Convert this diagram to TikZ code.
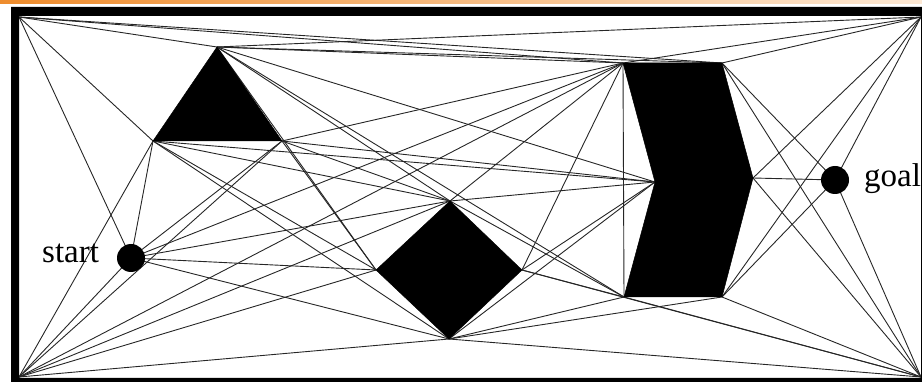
\documentclass[tikz,border=0pt]{standalone}
\usepackage{fontspec}
\setmainfont{Liberation Serif}
\definecolor{orangeL}{RGB}{238,140,45}
\definecolor{orangeR}{RGB}{252,232,212}
\begin{document}
\begin{tikzpicture}[x=1pt,y=-1pt,
  vis/.style={draw=black!85, line width=0.9pt},
  obst/.style={fill=black, draw=black, line width=0.5pt},
  robot/.style={circle, fill=black, minimum size=28pt, inner sep=0pt},
  lbl/.style={font=\fontsize{33}{36}\selectfont, inner sep=0pt, anchor=base west}]
\useasboundingbox (0,0) rectangle (922,382);
% orange strip on top
\shade[left color=orangeL, right color=orangeR] (0,0) rectangle (922,4);
% corners of the free space
\coordinate (C1) at (19,17);
\coordinate (C2) at (921,17);
\coordinate (C3) at (19,377);
\coordinate (C4) at (921,377);
% triangle
\coordinate (T1) at (217,47);
\coordinate (T2) at (153,141);
\coordinate (T3) at (282,141);
% diamond
\coordinate (D1) at (450,201);
\coordinate (D2) at (376,270);
\coordinate (D3) at (522,270);
\coordinate (D4) at (449,339);
% chevron
\coordinate (P1) at (623,63);
\coordinate (P2) at (722,63);
\coordinate (P3) at (753,178);
\coordinate (P4) at (722,297);
\coordinate (P5) at (624,297);
\coordinate (P6) at (655,182);
% start and goal
\coordinate (S) at (131,258);
\coordinate (G) at (835,180);
% visibility edges
\foreach \a/\b in {C1/T1, C1/T2, C1/S, C1/P1, C1/P2,
  C2/T1, C2/P1, C2/P2, C2/P3, C2/G, C2/P4,
  C3/S, C3/T2, C3/T3, C3/D2, C3/D4, C3/D1, C3/P1,
  C4/P4, C4/P3, C4/G, C4/P2, C4/P5, C4/D3, C4/D4,
  T1/D1, T1/D2, T1/P6, T1/P5, T1/P1, T1/P2,
  T2/S, T2/D1, T2/D2, T2/D4, T2/P6,
  T3/S, T3/D1, T3/D2, T3/P1, T3/P6,
  S/D1, S/D2, S/D4, S/P1,
  D1/P1, D1/P6, D1/P5,
  D3/P5, D3/P6, D3/P1,
  D4/P5, D4/P4, D4/P6,
  P1/P5, P2/G, P3/G, P4/G}
  \draw[vis] (\a) -- (\b);
% obstacles
\filldraw[obst] (T1) -- (T2) -- (T3) -- cycle;
\filldraw[obst] (D1) -- (D2) -- (D4) -- (D3) -- cycle;
\filldraw[obst] (P1) -- (P2) -- (P3) -- (P4) -- (P5) -- (P6) -- cycle;
% start and goal
\node[robot] (startdot) at (S) {};
\node[robot] (goaldot) at (G) {};
\node[lbl] (startlbl) at (42,263) {start};
\node[lbl] (goallbl) at (864,187) {goal};
% frame
\fill[black, even odd rule] (11,7) rectangle (940,400) (19,16) rectangle (921,378);
\end{tikzpicture}
\end{document}
